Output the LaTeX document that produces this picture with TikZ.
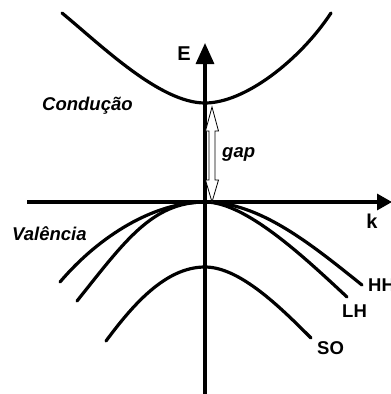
\documentclass[tikz,border=0pt]{standalone}
\usepackage{fontspec}
\setmainfont{Liberation Sans}
\usetikzlibrary{arrows.meta}
\tikzset{
  band/.style={line width=3.2pt, line cap=round},
  axis/.style={line width=3.2pt},
  lbl/.style={font=\fontsize{18.5}{18.5}\selectfont\bfseries, inner sep=0pt},
  ilbl/.style={font=\fontsize{18.5}{18.5}\selectfont\bfseries\itshape, inner sep=0pt},
  gaparrow/.style={draw=black, fill=white, line width=0.8pt, line join=miter}
}
\begin{document}
\begin{tikzpicture}[x=1pt,y=-1pt]
\useasboundingbox (0,0) rectangle (391,394);
% axes
\coordinate (Ebot) at (205,394);
\coordinate (Etop) at (205,43);
\coordinate (kleft) at (27,202);
\coordinate (kright) at (392,202);
\draw[axis, -{Triangle[length=21pt,width=18pt]}] (Ebot) -- (Etop);
\draw[axis, -{Triangle[length=15pt,width=16pt]}] (kleft) -- (kright);
% band apexes and ends
\coordinate (cmin) at (205,103);
\coordinate (cL) at (62,13);
\coordinate (cR) at (331,13);
\coordinate (vtop) at (205,202);
\coordinate (hhL) at (60,282);
\coordinate (hhR) at (362,285);
\coordinate (lhL) at (77,301);
\coordinate (lhR) at (347,297);
\coordinate (somax) at (205,267);
\coordinate (soL) at (106,341);
\coordinate (soR) at (311,338);
% conduction band
\draw[band] (cL) .. controls (102,46) and (160,103) .. (cmin)
            .. controls (245,103) and (300,60) .. (cR);
% HH
\draw[band] (hhL) .. controls (100,235) and (155,202) .. (vtop)
            .. controls (260,202) and (312,245) .. (hhR);
% LH
\draw[band] (lhL) .. controls (125,241) and (152,202) .. (vtop)
            .. controls (245,202) and (302,255) .. (lhR);
% SO
\draw[band] (soL) .. controls (132,306) and (165,267) .. (somax)
            .. controls (240,267) and (281,308) .. (soR);
% gap double arrow
\draw[gaparrow] (212,107) -- (218.5,131) -- (215,131) -- (215,180) -- (218.5,180) -- (212,202)
  -- (205.5,180) -- (209,180) -- (209,131) -- (205.5,131) -- cycle;
% labels
\node[lbl, font=\fontsize{20}{20}\selectfont\bfseries, anchor=base] (E) at (184,60) {E};
\node[lbl, font=\fontsize{20}{20}\selectfont\bfseries, anchor=base] (k) at (372,228) {k};
\node[ilbl, anchor=base west] (cond) at (42,110) {Condução};
\node[ilbl, anchor=base west] (val) at (12,240) {Valência};
\node[ilbl, anchor=base west] (gap) at (222,157) {gap};
\node[lbl, anchor=base west] (HH) at (368,291) {HH};
\node[lbl, anchor=base west] (LH) at (342,317) {LH};
\node[lbl, anchor=base west] (SO) at (317,354) {SO};
\end{tikzpicture}
\end{document}
